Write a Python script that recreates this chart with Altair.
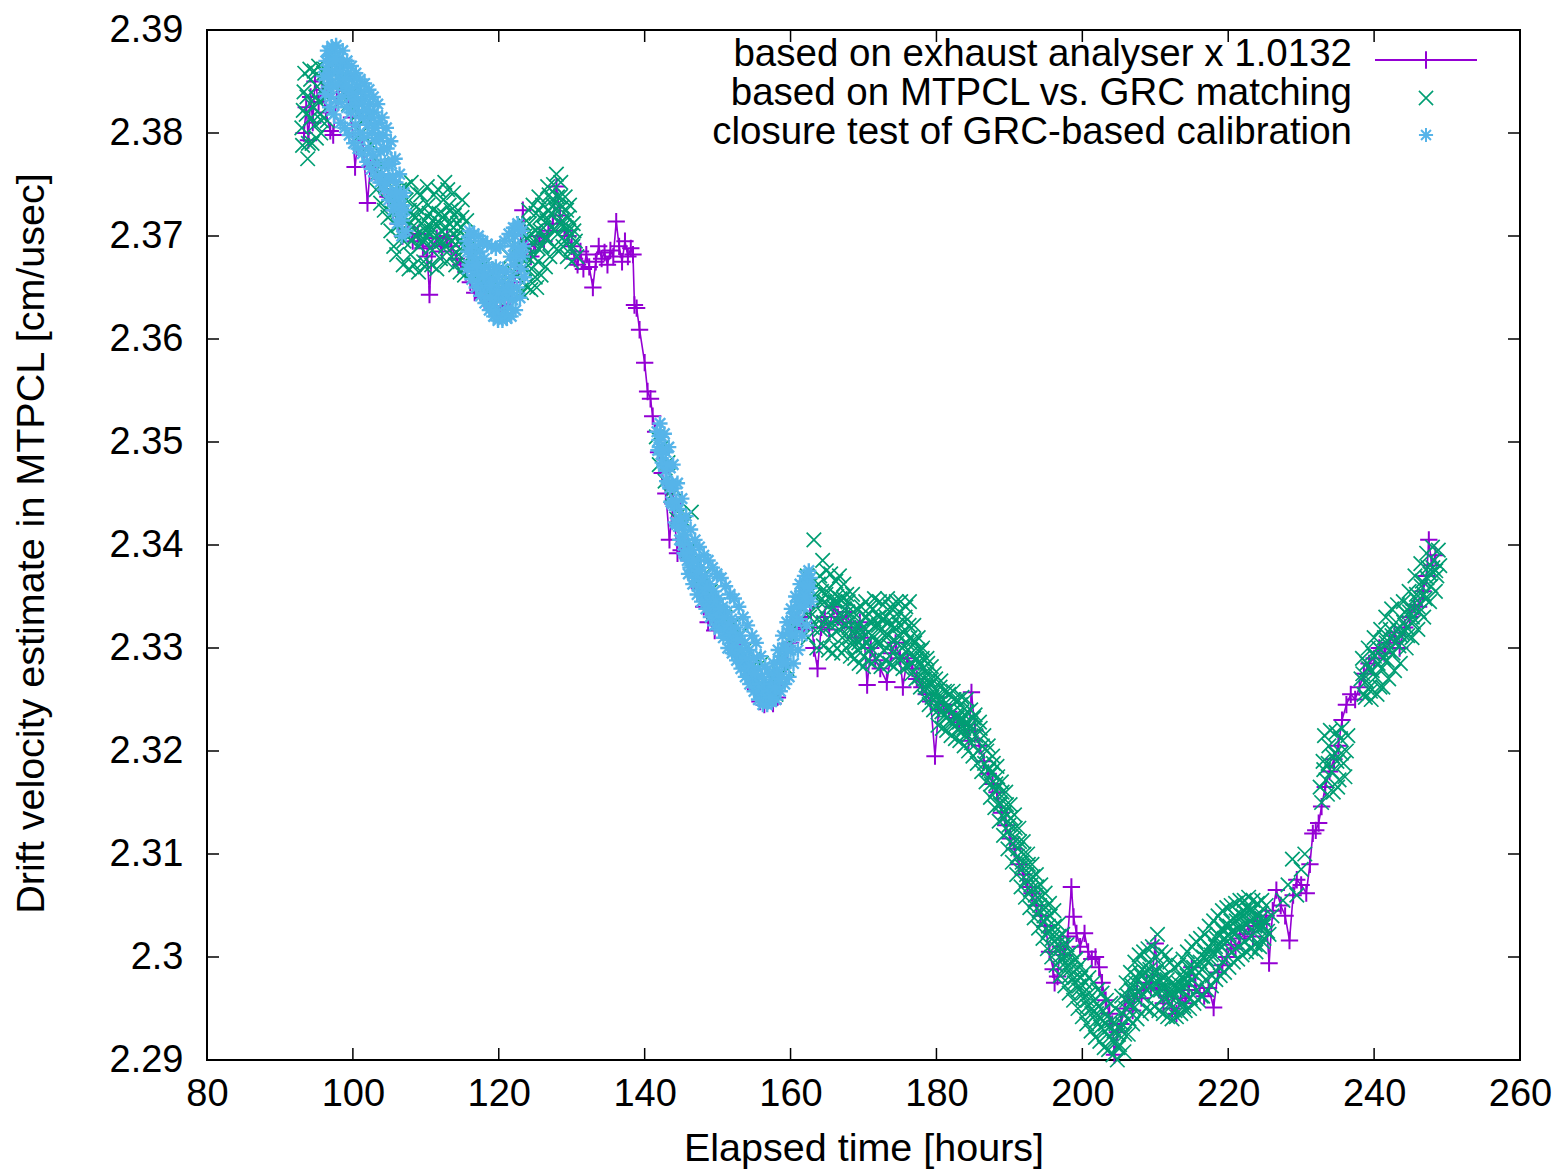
import altair as alt
import pandas as pd

# ---------------- data ----------------
# exhaust analyser x 1.0132 (purple, linespoints): (hours, cm/usec)
exhaust = [
(93.3,2.3800),(93.6,2.3825),(93.9,2.3793),(94.2,2.3835),(94.5,2.3810),(94.8,2.3850),(95.3,2.3830),(95.8,2.3842),
(96.3,2.3820),(96.9,2.3802),(97.3,2.3798),(97.8,2.3835),(98.5,2.3845),(99.2,2.3835),(99.8,2.3815),(100.3,2.3767),
(100.8,2.3800),(101.4,2.3785),(102.0,2.3732),(102.4,2.3768),(103.0,2.3770),(103.6,2.3755),(104.2,2.3745),(104.8,2.3738),
(105.5,2.3725),(106.2,2.3712),(106.8,2.3700),(107.5,2.3708),(108.2,2.3695),(108.9,2.3702),(109.6,2.3688),(110.2,2.3680),
(110.5,2.3643),(110.9,2.3690),(111.5,2.3698),(112.2,2.3685),(112.9,2.3700),(113.5,2.3690),(114.2,2.3678),(114.8,2.3672),
(115.5,2.3665),(116.1,2.3655),(116.7,2.3645),(117.3,2.3652),(117.9,2.3640),(118.5,2.3638),(119.1,2.3630),(119.7,2.3628),
(120.3,2.3632),(120.9,2.3630),(121.5,2.3640),(122.1,2.3655),(122.7,2.3670),(123.3,2.3725),(123.8,2.3690),(124.4,2.3680),
(125.0,2.3692),(125.6,2.3700),(126.2,2.3695),(126.8,2.3705),(127.4,2.3712),(127.9,2.3748),(128.4,2.3720),(129.0,2.3705),
(129.5,2.3700),(130.0,2.3690),(130.4,2.3678),(130.8,2.3672),(131.2,2.3685),(131.6,2.3668),(132.0,2.3682),(132.4,2.3670),
(132.9,2.3650),(133.3,2.3675),(133.7,2.3690),(134.1,2.3678),(134.5,2.3684),(134.9,2.3672),(135.3,2.3686),(135.7,2.3680),
(136.1,2.3714),(136.5,2.3690),(136.9,2.3675),(137.3,2.3695),(137.7,2.3680),(138.1,2.3688),(138.4,2.3682),(138.6,2.3633),
(138.9,2.3630),(139.3,2.3609),(140.0,2.3577),(140.4,2.3549),(140.8,2.3542),(141.1,2.3525),(141.5,2.3510),(141.9,2.3490),
(142.4,2.3470),(142.9,2.3450),(143.4,2.3405),(143.9,2.3440),(144.5,2.3392),(145.0,2.3395),(145.6,2.3400),(146.2,2.3385),
(146.9,2.3370),(147.5,2.3358),(148.1,2.3340),(148.7,2.3325),(149.6,2.3317),(150.3,2.3330),(151.0,2.3325),(151.7,2.3318),
(152.4,2.3305),(153.1,2.3298),(153.8,2.3285),(154.5,2.3272),(155.2,2.3260),(155.8,2.3248),(156.4,2.3245),(157.0,2.3250),
(157.6,2.3246),(158.2,2.3252),(158.8,2.3270),(159.4,2.3285),(160.0,2.3305),(160.6,2.3320),(161.2,2.3330),(161.8,2.3318),
(162.3,2.3365),(162.7,2.3340),(163.2,2.3300),(163.7,2.3280),(164.2,2.3320),(164.7,2.3330),(165.3,2.3318),(165.9,2.3340),
(166.5,2.3330),(167.1,2.3325),(167.7,2.3335),(168.3,2.3320),(168.9,2.3310),(169.5,2.3325),(170.1,2.3310),(170.5,2.3264),
(171.0,2.3300),(171.6,2.3288),(172.3,2.3280),(173.2,2.3267),(173.8,2.3295),(174.4,2.3305),(175.0,2.3290),(175.4,2.3262),
(176.0,2.3290),(176.7,2.3280),(177.3,2.3270),(178.0,2.3262),(178.6,2.3255),(179.2,2.3248),(179.8,2.3195),(180.3,2.3240),
(181.0,2.3245),(181.7,2.3238),(182.4,2.3232),(183.1,2.3228),(183.8,2.3225),(184.4,2.3210),(184.8,2.3257),(185.3,2.3220),
(185.9,2.3205),(186.5,2.3190),(187.1,2.3178),(187.7,2.3168),(188.3,2.3160),(188.9,2.3140),(189.5,2.3128),(190.1,2.3115),
(190.7,2.3105),(191.3,2.3090),(191.9,2.3080),(192.5,2.3068),(193.1,2.3062),(193.7,2.3050),(194.3,2.3040),(194.9,2.3030),
(195.5,2.3005),(196.0,2.2988),(196.2,2.2975),(196.6,2.2981),(197.0,2.3010),(197.5,2.3002),(198.0,2.3020),(198.5,2.3068),
(198.8,2.3039),(199.2,2.3023),(199.7,2.3010),(200.3,2.3023),(200.8,2.3005),(201.3,2.2998),(201.8,2.3000),(202.3,2.2990),
(202.7,2.2975),(203.2,2.2958),(203.7,2.2945),(204.1,2.2935),(204.4,2.2905),(204.8,2.2927),(205.3,2.2935),(205.8,2.2950),
(206.3,2.2962),(206.9,2.2948),(207.5,2.2968),(208.1,2.2960),(208.8,2.2975),(209.4,2.2970),(210.0,2.3013),(210.5,2.2968),
(211.1,2.2955),(211.7,2.2962),(212.3,2.2950),(212.9,2.2945),(213.5,2.2960),(214.1,2.2955),(214.6,2.2968),(215.0,2.2990),
(215.5,2.2972),(216.1,2.2965),(216.7,2.2962),(217.3,2.2970),(218.0,2.2951),(218.6,2.2985),(219.2,2.2992),(219.8,2.3000),
(220.4,2.3012),(221.0,2.3008),(221.6,2.3018),(222.2,2.3022),(222.8,2.3030),(223.4,2.3020),(224.0,2.3035),(224.6,2.3032),
(225.2,2.3040),(225.6,2.2994),(226.1,2.3045),(226.6,2.3065),(227.2,2.3050),(227.8,2.3040),(228.4,2.3016),(228.9,2.3060),
(229.4,2.3075),(230.0,2.3070),(230.7,2.3062),(231.2,2.3090),(231.6,2.3120),(232.0,2.3123),(232.4,2.3130),(232.8,2.3146),
(233.3,2.3165),(233.9,2.3180),(234.5,2.3192),(235.1,2.3205),(235.6,2.3230),(236.2,2.3245),(236.8,2.3255),(237.4,2.3250),
(238.0,2.3262),(238.6,2.3275),(239.3,2.3285),(240.0,2.3290),(240.7,2.3300),(241.4,2.3295),(242.1,2.3305),(242.8,2.3315),
(243.5,2.3300),(244.2,2.3320),(244.9,2.3330),(245.5,2.3342),(246.1,2.3340),(246.7,2.3355),(247.2,2.3370),(247.5,2.3405),
(247.9,2.3380),(248.4,2.3390),
]

# MTPCL vs. GRC matching (green crosses) - band core
matching = [
(93.0,2.3805),(93.3,2.3840),(93.6,2.3818),(93.9,2.3790),(94.2,2.3852),(94.5,2.3826),(94.8,2.3808),(95.1,2.3845),
(95.4,2.3830),(95.7,2.3812),(96.0,2.3858),(96.3,2.3835),(97.0,2.3848),(97.6,2.3868),(98.2,2.3852),(98.8,2.3838),
(99.4,2.3828),(100.0,2.3840),(100.6,2.3818),(101.2,2.3800),(101.8,2.3815),(102.4,2.3790),(103.0,2.3775),(103.5,2.3762),
(104.0,2.3770),(104.5,2.3748),(105.0,2.3740),(105.4,2.3722),(105.8,2.3745),(106.2,2.3710),(106.6,2.3728),(107.0,2.3695),
(107.3,2.3735),(107.6,2.3712),(107.9,2.3682),(108.2,2.3720),(108.5,2.3700),(108.8,2.3742),(109.1,2.3690),(109.4,2.3712),
(109.7,2.3675),(110.0,2.3705),(110.3,2.3730),(110.6,2.3688),(110.9,2.3715),(111.2,2.3698),(111.5,2.3668),(111.8,2.3722),
(112.1,2.3705),(112.4,2.3735),(112.7,2.3690),(113.0,2.3745),(113.3,2.3712),(113.6,2.3695),(113.9,2.3720),(114.2,2.3700),
(114.5,2.3682),(114.8,2.3708),(115.1,2.3690),(115.4,2.3672),(115.7,2.3698),(116.0,2.3680),(116.5,2.3665),(117.0,2.3690),
(117.5,2.3655),(118.0,2.3672),(118.5,2.3645),(119.0,2.3660),(119.5,2.3640),(120.0,2.3668),(120.5,2.3648),(121.0,2.3655),
(121.5,2.3680),(122.0,2.3665),(122.5,2.3690),(123.0,2.3672),(123.3,2.3655),(123.6,2.3700),(123.9,2.3680),(124.0,2.3650),
(124.2,2.3712),(124.5,2.3668),(124.8,2.3695),(125.0,2.3660),(125.1,2.3722),(125.4,2.3688),(125.7,2.3705),(126.0,2.3730),
(126.3,2.3698),(126.6,2.3715),(126.9,2.3740),(127.2,2.3708),(127.5,2.3750),(127.8,2.3725),(128.1,2.3702),(128.4,2.3738),
(128.7,2.3715),(129.0,2.3695),(129.3,2.3725),(129.6,2.3705),(129.9,2.3688),(130.2,2.3712),(130.5,2.3695),
(141.6,2.3505),(142.0,2.3478),(142.4,2.3495),(142.8,2.3462),(143.2,2.3480),(143.6,2.3448),(144.0,2.3455),(144.4,2.3425),
(144.8,2.3430),(145.2,2.3408),(145.6,2.3422),(146.0,2.3395),(146.4,2.3432),(146.8,2.3375),(147.2,2.3385),(147.6,2.3362),
(148.0,2.3370),(148.5,2.3350),(149.0,2.3355),(149.5,2.3335),(150.0,2.3342),(150.5,2.3325),(151.0,2.3330),(151.5,2.3318),
(152.0,2.3322),(152.5,2.3305),(153.0,2.3312),(153.5,2.3292),(154.0,2.3300),(154.5,2.3280),(155.0,2.3290),(155.5,2.3268),
(156.0,2.3285),(156.5,2.3262),(157.0,2.3250),(157.5,2.3270),(158.0,2.3255),(158.5,2.3275),(159.0,2.3290),(159.5,2.3280),
(160.0,2.3305),(160.5,2.3320),(161.0,2.3325),(161.5,2.3340),(162.0,2.3345),(162.3,2.3370),(162.6,2.3330),(162.9,2.3355),
(163.2,2.3405),(163.5,2.3340),(163.8,2.3362),(164.1,2.3318),(164.4,2.3385),(164.7,2.3345),(165.0,2.3328),(165.3,2.3358),
(165.6,2.3312),(165.9,2.3340),(166.2,2.3365),(166.5,2.3325),(166.8,2.3348),(167.1,2.3310),(167.4,2.3338),(167.7,2.3352),
(168.0,2.3320),(168.3,2.3305),(168.6,2.3335),(168.9,2.3318),(169.2,2.3298),(169.5,2.3325),(169.8,2.3310),(170.1,2.3292),
(170.4,2.3330),(170.7,2.3315),(171.0,2.3300),(171.3,2.3338),(171.6,2.3322),(171.9,2.3305),(172.2,2.3345),(172.5,2.3318),
(172.8,2.3298),(173.1,2.3330),(173.4,2.3312),(173.7,2.3340),(174.0,2.3295),(174.3,2.3320),(174.6,2.3305),(174.9,2.3335),
(175.2,2.3290),(175.5,2.3315),(175.8,2.3340),(176.1,2.3298),(176.4,2.3310),(176.7,2.3285),(177.0,2.3305),(177.3,2.3290),
(177.6,2.3272),(177.9,2.3298),(178.2,2.3280),(178.5,2.3262),(178.8,2.3285),(179.1,2.3268),(179.4,2.3252),(179.7,2.3275),
(180.0,2.3258),(180.3,2.3240),(180.6,2.3268),(180.9,2.3250),(181.2,2.3235),(181.5,2.3258),(181.8,2.3242),(182.1,2.3228),
(182.4,2.3250),(182.7,2.3235),(183.0,2.3220),(183.3,2.3245),(183.6,2.3230),(183.9,2.3215),(184.2,2.3238),(184.5,2.3222),
(184.8,2.3208),(185.1,2.3232),(185.4,2.3215),(185.7,2.3200),(186.0,2.3222),(186.3,2.3205),(186.6,2.3188),(186.9,2.3200),
(187.2,2.3182),(187.5,2.3168),(187.8,2.3188),(188.1,2.3162),(188.4,2.3175),(188.7,2.3150),(189.0,2.3160),(189.3,2.3135),
(189.6,2.3148),(189.9,2.3122),(190.2,2.3135),(190.5,2.3110),(190.8,2.3125),(191.1,2.3098),(191.4,2.3112),(191.7,2.3088),
(192.0,2.3100),(192.3,2.3075),(192.6,2.3090),(192.9,2.3065),(193.2,2.3078),(193.5,2.3055),(193.8,2.3068),(194.1,2.3045),
(194.4,2.3058),(194.7,2.3035),(195.0,2.3048),(195.3,2.3025),(195.6,2.3040),(195.9,2.3018),(196.2,2.3030),(196.5,2.3008),
(196.8,2.3020),(197.1,2.2998),(197.4,2.3012),(197.7,2.2990),(198.0,2.3002),(198.3,2.2982),(198.6,2.2995),(198.9,2.2975),
(199.2,2.2988),(199.5,2.2968),(199.8,2.2980),(200.1,2.2960),(200.4,2.2975),(200.7,2.2952),(201.0,2.2965),(201.3,2.2945),
(201.6,2.2958),(201.9,2.2938),(202.2,2.2952),(202.5,2.2932),(202.8,2.2948),(203.1,2.2928),(203.4,2.2942),(203.7,2.2922),
(204.0,2.2938),(204.3,2.2918),(204.6,2.2935),(204.9,2.2912),(205.2,2.2930),(205.5,2.2945),(205.8,2.2925),(206.1,2.2958),
(206.4,2.2940),(206.7,2.2968),(207.0,2.2950),(207.3,2.2975),(207.6,2.2958),(207.9,2.2985),(208.2,2.2962),(208.5,2.2990),
(208.8,2.2968),(209.1,2.2995),(209.4,2.2972),(209.7,2.2985),(210.0,2.2965),(210.3,2.3022),(210.6,2.2978),(210.9,2.2992),
(211.2,2.2960),(211.5,2.2982),(211.8,2.2968),(212.1,2.2955),(212.4,2.2975),(212.7,2.2948),(213.0,2.2968),(213.3,2.2958),
(213.6,2.2980),(213.9,2.2952),(214.2,2.2972),(214.5,2.2990),(214.8,2.2960),(215.1,2.2978),(215.4,2.2995),(215.7,2.2968),
(216.0,2.2985),(216.3,2.2962),(216.6,2.3000),(216.9,2.2978),(217.2,2.2995),(217.5,2.3008),(217.8,2.2982),(218.1,2.3002),
(218.4,2.3018),(218.7,2.2990),(219.0,2.3010),(219.3,2.3025),(219.6,2.2998),(219.9,2.3015),(220.2,2.3030),(220.5,2.3005),
(220.8,2.3022),(221.1,2.3035),(221.4,2.3010),(221.7,2.3028),(222.0,2.3040),(222.3,2.3015),(222.6,2.3032),(222.9,2.3045),
(223.2,2.3020),(223.5,2.3038),(223.8,2.3005),(224.1,2.3030),(224.4,2.3042),(224.7,2.3015),(225.0,2.3035),(225.4,2.3025),
(226.0,2.3040),(227.5,2.3055),(228.2,2.3070),(228.8,2.3095),(229.4,2.3060),(230.0,2.3085),(230.5,2.3100),
(232.6,2.3165),(233.0,2.3190),(233.4,2.3172),(233.8,2.3205),(234.2,2.3180),(234.6,2.3198),(235.0,2.3165),(235.4,2.3212),
(235.8,2.3188),(236.2,2.3200),(238.2,2.3270),(238.6,2.3255),(239.0,2.3285),(239.4,2.3262),(239.6,2.3250),(239.8,2.3295),
(240.2,2.3272),(240.6,2.3300),(240.8,2.3262),(241.0,2.3280),(241.4,2.3310),(241.8,2.3288),(242.2,2.3318),(242.6,2.3295),
(243.0,2.3325),(243.4,2.3302),(243.8,2.3315),(244.2,2.3335),(244.6,2.3312),(245.0,2.3340),(245.4,2.3325),(245.8,2.3352),
(246.2,2.3335),(246.6,2.3365),(247.0,2.3348),(247.4,2.3378),(247.8,2.3360),(248.2,2.3385),(248.6,2.3370),(249.0,2.3380),
]

# MTPCL vs. GRC matching - points along the upper / lower edges of the band
matching_edges = [
(93.1,2.3788),(93.4,2.3858),(93.8,2.3775),(94.1,2.3862),(94.4,2.3790),(94.7,2.3860),(95.0,2.3795),(95.3,2.3865),
(95.6,2.3800),(96.1,2.3862),(96.5,2.3812),
(103.2,2.3745),(103.8,2.3732),(104.3,2.3725),(104.8,2.3718),(105.2,2.3705),(105.6,2.3690),(106.0,2.3682),(106.4,2.3745),
(106.9,2.3672),(107.2,2.3748),(107.7,2.3668),(108.0,2.3752),(108.4,2.3672),(108.7,2.3728),(109.0,2.3665),(109.3,2.3740),
(109.6,2.3698),(109.9,2.3670),(110.2,2.3748),(110.5,2.3710),(110.8,2.3672),(111.1,2.3740),(111.4,2.3690),(111.7,2.3745),
(112.0,2.3678),(112.3,2.3718),(112.6,2.3752),(112.9,2.3675),(113.2,2.3730),(113.5,2.3680),(113.8,2.3742),(114.1,2.3672),
(114.4,2.3725),(114.7,2.3665),(115.0,2.3735),(115.3,2.3662),(115.6,2.3715),
(123.1,2.3645),(123.4,2.3712),(123.7,2.3652),(124.1,2.3725),(124.4,2.3648),(124.7,2.3730),(125.2,2.3650),(125.5,2.3738),
(125.8,2.3662),(126.1,2.3708),(126.4,2.3670),(126.7,2.3748),(127.0,2.3680),(127.3,2.3735),(127.6,2.3690),(127.9,2.3760),
(128.2,2.3685),(128.5,2.3752),(128.8,2.3690),(129.1,2.3738),(129.4,2.3680),(129.7,2.3730),(130.0,2.3675),(130.3,2.3705),
(130.7,2.3680),
(162.4,2.3310),(163.0,2.3320),(163.6,2.3300),(164.0,2.3370),(164.5,2.3302),(164.9,2.3375),(165.2,2.3298),(165.5,2.3372),
(165.8,2.3295),(166.1,2.3345),(166.4,2.3300),(166.7,2.3370),(167.0,2.3295),(167.3,2.3362),(167.6,2.3300),(167.9,2.3345),
(168.2,2.3292),(168.5,2.3352),(168.8,2.3290),(169.1,2.3338),(169.4,2.3285),(169.7,2.3340),(170.0,2.3282),(170.3,2.3345),
(170.6,2.3288),(170.9,2.3340),(171.2,2.3285),(171.5,2.3348),(171.8,2.3290),(172.1,2.3330),(172.4,2.3282),(172.7,2.3342),
(173.0,2.3288),(173.3,2.3348),(173.6,2.3285),(173.9,2.3338),(174.2,2.3282),(174.5,2.3345),(174.8,2.3290),(175.1,2.3345),
(175.4,2.3280),(175.7,2.3330),(176.0,2.3282),(176.3,2.3345),(176.6,2.3275),(176.9,2.3322),(177.2,2.3270),(177.5,2.3310),
(177.8,2.3262),(178.1,2.3300),(178.4,2.3252),(178.7,2.3290),(179.0,2.3245),(179.3,2.3282),(179.6,2.3240),(179.9,2.3270),
(180.2,2.3225),(180.5,2.3262),(180.8,2.3222),(181.1,2.3258),(181.4,2.3220),(181.7,2.3255),(182.0,2.3215),(182.3,2.3258),
(182.6,2.3212),(182.9,2.3250),(183.2,2.3210),(183.5,2.3252),(183.8,2.3205),(184.1,2.3250),(184.4,2.3200),(184.7,2.3240),
(185.0,2.3195),(185.3,2.3235),(185.6,2.3188),(185.9,2.3228),(186.2,2.3180),(186.5,2.3215),(186.8,2.3170),(187.1,2.3205),
(187.4,2.3155),(187.7,2.3195),(188.0,2.3145),(188.3,2.3185),(188.6,2.3132),(188.9,2.3170),(189.2,2.3118),(189.5,2.3160),
(189.8,2.3105),(190.1,2.3148),(190.4,2.3092),(190.7,2.3138),(191.0,2.3080),(191.3,2.3125),(191.6,2.3068),(191.9,2.3112),
(192.2,2.3058),(192.5,2.3100),(192.8,2.3048),(193.1,2.3090),(193.4,2.3038),(193.7,2.3080),(194.0,2.3028),(194.3,2.3070),
(194.6,2.3018),(194.9,2.3062),(195.2,2.3008),(195.5,2.3052),(195.8,2.3000),(196.1,2.3045),(196.4,2.2992),(196.7,2.3032),
(197.0,2.2982),(197.3,2.3022),(197.6,2.2972),(197.9,2.3012),(198.2,2.2965),(198.5,2.3005),(198.8,2.2958),(199.1,2.2998),
(199.4,2.2950),(199.7,2.2992),(200.0,2.2942),(200.3,2.2985),(200.6,2.2935),(200.9,2.2980),(201.2,2.2928),(201.5,2.2975),
(201.8,2.2922),(202.1,2.2968),(202.4,2.2918),(202.7,2.2965),(203.0,2.2912),(203.3,2.2958),(203.6,2.2910),(203.9,2.2955),
(204.2,2.2905),(204.5,2.2950),(204.8,2.2900),(205.1,2.2915),(205.4,2.2962),(205.7,2.2908),(206.0,2.2975),(206.3,2.2925),
(206.6,2.2985),(206.9,2.2935),(207.2,2.2995),(207.5,2.2940),(207.8,2.3002),(208.1,2.2945),(208.4,2.3005),(208.7,2.2950),
(209.0,2.3008),(209.3,2.2948),(209.6,2.3010),(209.9,2.2952),(210.2,2.3000),(210.5,2.2948),(210.8,2.3005),(211.1,2.2945),
(211.4,2.3002),(211.7,2.2942),(212.0,2.2995),(212.3,2.2940),(212.6,2.2990),(212.9,2.2942),(213.2,2.2992),(213.5,2.2945),
(213.8,2.2998),(214.1,2.2948),(214.4,2.3005),(214.7,2.2950),(215.0,2.3010),(215.3,2.2955),(215.6,2.3015),(215.9,2.2958),
(216.2,2.3018),(216.5,2.2962),(216.8,2.3022),(217.1,2.2968),(217.4,2.3030),(217.7,2.2972),(218.0,2.3035),(218.3,2.2978),
(218.6,2.3040),(218.9,2.2982),(219.2,2.3045),(219.5,2.2985),(219.8,2.3048),(220.1,2.2990),(220.4,2.3050),(220.7,2.2995),
(221.0,2.3052),(221.3,2.2998),(221.6,2.3055),(221.9,2.3002),(222.2,2.3055),(222.5,2.3005),(222.8,2.3058),(223.1,2.3008),
(223.4,2.3055),(223.7,2.3012),(224.0,2.3052),(224.3,2.3010),(224.6,2.3055),(224.9,2.3018),(225.2,2.3050),(225.6,2.3022),
(232.8,2.3150),(233.2,2.3215),(233.6,2.3158),(234.0,2.3220),(234.4,2.3160),(234.8,2.3218),(235.2,2.3172),(235.6,2.3222),
(236.0,2.3175),(236.4,2.3215),(238.4,2.3290),(238.8,2.3252),(239.2,2.3300),(239.5,2.3258),(240.0,2.3310),(240.4,2.3255),
(240.9,2.3318),(241.2,2.3262),(241.6,2.3330),(242.0,2.3270),(242.4,2.3338),(242.8,2.3278),(243.2,2.3342),(243.6,2.3285),
(244.0,2.3345),(244.4,2.3300),(244.8,2.3355),(245.2,2.3310),(245.6,2.3370),(246.0,2.3318),(246.4,2.3382),(246.8,2.3330),
(247.2,2.3392),(247.6,2.3345),(248.0,2.3398),(248.4,2.3355),(248.8,2.3395),
]

# MTPCL vs. GRC matching - points filling the middle of the band
matching_fill = [
(93.2,2.3822),(93.7,2.3835),(94.3,2.3815),(94.9,2.3835),(95.5,2.3818),(96.2,2.3845),
(106.75,2.3705),(107.05,2.3718),(107.45,2.3700),(107.75,2.3725),(108.05,2.3695),(108.35,2.3710),(108.65,2.3718),
(108.95,2.3702),(109.25,2.3725),(109.55,2.3695),(109.85,2.3715),(110.15,2.3698),(110.45,2.3722),(110.75,2.3705),
(111.05,2.3725),(111.35,2.3712),(111.65,2.3695),(111.95,2.3712),(112.25,2.3695),(112.55,2.3720),(112.85,2.3708),
(113.15,2.3698),(113.45,2.3725),(113.75,2.3708),(114.05,2.3692),(114.35,2.3712),(114.65,2.3695),(114.95,2.3718),
(115.25,2.3700),(115.55,2.3688),
(123.25,2.3682),(123.55,2.3668),(123.85,2.3698),(124.15,2.3688),(124.45,2.3702),(124.75,2.3680),(125.05,2.3705),
(125.35,2.3675),(125.65,2.3718),(125.95,2.3690),(126.25,2.3720),(126.55,2.3698),(126.85,2.3725),(127.15,2.3722),
(127.45,2.3730),(127.75,2.3705),(128.05,2.3738),(128.35,2.3712),(128.65,2.3728),(128.95,2.3710),(129.25,2.3708),
(129.55,2.3718),(129.85,2.3700),(130.15,2.3690),
(163.35,2.3352),(163.65,2.3328),(163.95,2.3345),(164.25,2.3355),(164.55,2.3325),(164.85,2.3352),(165.15,2.3340),
(165.45,2.3322),(165.75,2.3350),(166.05,2.3328),(166.35,2.3350),(166.65,2.3318),(166.95,2.3332),(167.25,2.3348),
(167.55,2.3322),(167.85,2.3335),(168.15,2.3310),(168.45,2.3328),(168.75,2.3305),(169.05,2.3320),(169.35,2.3305),
(169.65,2.3318),(169.95,2.3302),(170.25,2.3318),(170.55,2.3305),(170.85,2.3325),(171.15,2.3312),(171.45,2.3328),
(171.75,2.3308),(172.05,2.3322),(172.35,2.3305),(172.65,2.3328),(172.95,2.3312),(173.25,2.3325),(173.55,2.3302),
(173.85,2.3322),(174.15,2.3308),(174.45,2.3328),(174.75,2.3312),(175.05,2.3322),(175.35,2.3300),(175.65,2.3325),
(175.95,2.3305),(176.25,2.3322),(176.55,2.3295),(176.85,2.3308),(177.15,2.3288),(177.45,2.3298),(177.75,2.3285),
(178.05,2.3290),(178.35,2.3270),(178.65,2.3275),(178.95,2.3262),(179.25,2.3265),(179.55,2.3258),(179.85,2.3252),
(180.15,2.3245),(180.45,2.3250),(180.75,2.3238),(181.05,2.3245),(181.35,2.3232),(181.65,2.3240),(181.95,2.3230),
(182.25,2.3238),(182.55,2.3225),(182.85,2.3232),(183.15,2.3228),(183.45,2.3238),(183.75,2.3222),(184.05,2.3228),
(184.35,2.3215),(184.65,2.3225),
(187.55,2.3178),(188.15,2.3168),(188.75,2.3148),(189.35,2.3140),(189.95,2.3128),(190.55,2.3115),(191.15,2.3105),
(191.75,2.3092),(192.35,2.3080),(192.95,2.3070),(193.55,2.3060),(194.15,2.3050),(194.75,2.3040),(195.35,2.3030),
(195.95,2.3022),(196.55,2.3012),(197.15,2.3002),(197.75,2.2995),(198.35,2.2988),(198.95,2.2980),(199.55,2.2972),
(200.15,2.2965),(200.75,2.2958),(201.35,2.2950),(201.95,2.2945),(202.55,2.2940),(203.15,2.2935),(203.75,2.2932),
(204.35,2.2928),(204.95,2.2925),(205.45,2.2935),
(205.95,2.2950),(206.25,2.2962),(206.55,2.2955),(206.85,2.2972),(207.15,2.2962),(207.45,2.2980),(207.75,2.2968),
(208.05,2.2982),(208.35,2.2972),(208.65,2.2985),(208.95,2.2975),(209.25,2.2988),(209.55,2.2978),(209.85,2.2975),
(210.15,2.2985),(210.45,2.2975),(210.75,2.2968),(211.05,2.2980),(211.35,2.2970),(211.65,2.2978),(211.95,2.2962),
(212.25,2.2968),(212.55,2.2962),(212.85,2.2970),(213.15,2.2975),(213.45,2.2968),(213.75,2.2972),(214.05,2.2978),
(214.35,2.2982),(214.65,2.2975),(214.95,2.2985),(215.25,2.2990),(215.55,2.2982),(215.85,2.2992),(216.15,2.2995),
(216.45,2.2988),(216.75,2.3005),(217.05,2.2998),(217.35,2.3010),(217.65,2.3002),(217.95,2.3015),(218.25,2.3010),
(218.55,2.3022),(218.85,2.3012),(219.15,2.3028),(219.45,2.3018),(219.75,2.3030),(220.05,2.3022),(220.35,2.3035),
(220.65,2.3025),(220.95,2.3040),(221.25,2.3028),(221.55,2.3042),(221.85,2.3030),(222.15,2.3045),(222.45,2.3032),
(222.75,2.3048),(223.05,2.3035),(223.35,2.3045),(223.65,2.3030),(223.95,2.3040),(224.25,2.3028),(224.55,2.3038),
(224.85,2.3030),
(233.1,2.3182),(233.7,2.3188),(234.3,2.3195),(234.9,2.3190),(235.5,2.3198),
(238.45,2.3275),(238.95,2.3268),(239.25,2.3280),(239.75,2.3278),(240.05,2.3292),(240.55,2.3285),(240.95,2.3298),
(241.25,2.3290),(241.65,2.3305),(242.05,2.3298),(242.45,2.3312),(242.85,2.3305),(243.25,2.3318),(243.65,2.3312),
(244.05,2.3325),(244.45,2.3320),(244.85,2.3335),(245.25,2.3330),(245.65,2.3348),(246.05,2.3340),(246.45,2.3360),
(246.85,2.3352),(247.25,2.3368),(247.65,2.3372),(248.05,2.3378),(248.45,2.3375),
]

# closure test of GRC-based calibration (blue asterisks) - core
closure = [
(96.0,2.3855),(96.3,2.3870),(96.6,2.3845),(96.9,2.3875),(97.0,2.3835),(97.2,2.3858),(97.5,2.3880),(97.8,2.3862),
(98.0,2.3830),(98.1,2.3872),(98.4,2.3848),(98.7,2.3866),(99.0,2.3842),(99.3,2.3858),(99.6,2.3835),(99.9,2.3852),
(100.2,2.3828),(100.5,2.3845),(100.8,2.3820),(101.1,2.3840),(101.4,2.3815),(101.7,2.3835),(102.0,2.3808),(102.3,2.3828),
(102.6,2.3800),(102.9,2.3820),(103.2,2.3792),(103.5,2.3810),(103.8,2.3782),(104.1,2.3798),(104.4,2.3770),(104.7,2.3785),
(105.0,2.3755),(105.3,2.3770),(105.6,2.3740),(105.9,2.3752),(106.2,2.3728),(106.5,2.3738),(106.8,2.3715),(107.1,2.3725),
(115.6,2.3695),(115.9,2.3672),(116.2,2.3700),(116.5,2.3665),(116.8,2.3690),(117.1,2.3655),(117.4,2.3685),(117.7,2.3648),
(118.0,2.3678),(118.3,2.3640),(118.6,2.3670),(118.9,2.3632),(119.2,2.3665),(119.5,2.3628),(119.8,2.3660),(120.1,2.3622),
(120.4,2.3655),(120.7,2.3625),(121.0,2.3665),(121.3,2.3630),(121.6,2.3680),(121.9,2.3638),(122.2,2.3700),(122.5,2.3650),
(122.8,2.3708),(123.1,2.3668),(123.4,2.3690),
(141.7,2.3510),(142.0,2.3495),(142.3,2.3505),(142.6,2.3478),(142.9,2.3490),(143.2,2.3460),(143.5,2.3475),(143.8,2.3440),
(144.1,2.3455),(144.4,2.3420),(144.7,2.3435),(145.0,2.3405),(145.3,2.3418),(145.6,2.3390),(145.9,2.3402),(146.2,2.3378),
(146.5,2.3395),(146.8,2.3368),(147.1,2.3385),(147.4,2.3360),(147.7,2.3378),(148.0,2.3352),(148.3,2.3370),(148.6,2.3345),
(148.9,2.3362),(149.2,2.3338),(149.5,2.3355),(149.8,2.3330),(150.1,2.3348),(150.4,2.3322),(150.7,2.3340),(151.0,2.3315),
(151.3,2.3335),(151.6,2.3308),(151.9,2.3328),(152.2,2.3300),(152.5,2.3320),(152.8,2.3292),(153.1,2.3312),(153.4,2.3285),
(153.7,2.3305),(154.0,2.3278),(154.3,2.3298),(154.6,2.3270),(154.9,2.3290),(155.2,2.3262),(155.5,2.3280),(155.8,2.3255),
(156.1,2.3272),(156.4,2.3250),(156.7,2.3265),(157.0,2.3248),(157.3,2.3262),(157.6,2.3255),(157.9,2.3275),(158.2,2.3262),
(158.5,2.3288),(158.8,2.3272),(159.1,2.3300),(159.4,2.3285),(159.7,2.3315),(160.0,2.3298),(160.3,2.3330),(160.6,2.3312),
(160.9,2.3345),(161.2,2.3328),(161.5,2.3355),(161.8,2.3340),(162.1,2.3362),(162.4,2.3348),(162.7,2.3368),
]

# closure test - points along the upper / lower edges of the blobs
closure_edges = [
(96.2,2.3838),(96.5,2.3880),(96.8,2.3825),(97.1,2.3884),(97.4,2.3818),(97.7,2.3885),(98.3,2.3810),(98.6,2.3880),
(98.9,2.3805),(99.2,2.3870),(99.5,2.3798),(99.8,2.3865),(100.1,2.3790),(100.4,2.3858),(100.7,2.3785),(101.0,2.3852),
(101.3,2.3780),(101.6,2.3848),(101.9,2.3772),(102.2,2.3842),(102.5,2.3765),(102.8,2.3835),(103.1,2.3758),(103.4,2.3828),
(103.7,2.3752),(104.0,2.3815),(104.3,2.3745),(104.6,2.3805),(104.9,2.3735),(105.2,2.3792),(105.5,2.3725),(105.8,2.3775),
(106.1,2.3712),(106.4,2.3760),(106.7,2.3700),(107.0,2.3742),(107.3,2.3705),
(115.7,2.3668),(116.0,2.3705),(116.3,2.3658),(116.6,2.3702),(116.9,2.3650),(117.2,2.3700),(117.5,2.3642),(117.8,2.3695),
(118.1,2.3635),(118.4,2.3692),(118.7,2.3628),(119.0,2.3690),(119.3,2.3622),(119.6,2.3688),(119.9,2.3618),(120.2,2.3690),
(120.5,2.3618),(120.8,2.3695),(121.1,2.3620),(121.4,2.3702),(121.7,2.3622),(122.0,2.3708),(122.3,2.3628),(122.6,2.3712),
(122.9,2.3640),(123.2,2.3705),(123.5,2.3660),
(141.8,2.3492),(142.1,2.3518),(142.4,2.3480),(142.7,2.3508),(143.0,2.3462),(143.3,2.3495),(143.6,2.3442),(143.9,2.3478),
(144.2,2.3422),(144.5,2.3460),(144.8,2.3405),(145.1,2.3445),(145.4,2.3392),(145.7,2.3428),(146.0,2.3372),(146.3,2.3415),
(146.6,2.3362),(146.9,2.3405),(147.2,2.3352),(147.5,2.3398),(147.8,2.3345),(148.1,2.3390),(148.4,2.3338),(148.7,2.3385),
(149.0,2.3330),(149.3,2.3378),(149.6,2.3322),(149.9,2.3372),(150.2,2.3318),(150.5,2.3368),(150.8,2.3310),(151.1,2.3360),
(151.4,2.3300),(151.7,2.3352),(152.0,2.3295),(152.3,2.3348),(152.6,2.3288),(152.9,2.3340),(153.2,2.3280),(153.5,2.3330),
(153.8,2.3272),(154.1,2.3322),(154.4,2.3265),(154.7,2.3312),(155.0,2.3258),(155.3,2.3305),(155.6,2.3250),(155.9,2.3292),
(156.2,2.3245),(156.5,2.3282),(156.8,2.3245),(157.1,2.3275),(157.4,2.3248),(157.7,2.3285),(158.0,2.3250),(158.3,2.3298),
(158.6,2.3258),(158.9,2.3312),(159.2,2.3265),(159.5,2.3325),(159.8,2.3272),(160.1,2.3338),(160.4,2.3285),(160.7,2.3350),
(161.0,2.3298),(161.3,2.3362),(161.6,2.3312),(161.9,2.3370),(162.2,2.3322),(162.5,2.3375),(162.8,2.3345),
]

# closure test - points filling the middle of the blobs
closure_fill = [
(96.45,2.3862),(96.75,2.3852),(97.05,2.3868),(97.35,2.3845),(97.65,2.3872),(97.95,2.3848),(98.25,2.3858),
(98.55,2.3835),(98.85,2.3852),(99.15,2.3825),(99.45,2.3845),(99.75,2.3820),(100.05,2.3838),(100.35,2.3808),
(100.65,2.3832),(100.95,2.3800),(101.25,2.3828),(101.55,2.3795),(101.85,2.3822),(102.15,2.3785),(102.45,2.3815),
(102.75,2.3778),(103.05,2.3805),(103.35,2.3770),(103.65,2.3795),(103.95,2.3760),(104.25,2.3785),(104.55,2.3752),
(104.85,2.3770),(105.15,2.3742),(105.45,2.3758),(105.75,2.3730),(106.05,2.3742),(106.35,2.3720),(106.65,2.3730),
(115.75,2.3685),(116.05,2.3688),(116.35,2.3680),(116.65,2.3675),(116.95,2.3675),(117.25,2.3665),(117.55,2.3668),
(117.85,2.3660),(118.15,2.3658),(118.45,2.3652),(118.75,2.3655),(119.05,2.3645),(119.35,2.3650),(119.65,2.3640),
(119.95,2.3645),(120.25,2.3638),(120.55,2.3642),(120.85,2.3640),(121.15,2.3648),(121.45,2.3652),(121.75,2.3660),
(122.05,2.3672),(122.35,2.3680),(122.65,2.3688),(122.95,2.3685),(123.25,2.3680),(117.0,2.3672),(118.0,2.3662),
(119.0,2.3652),(120.0,2.3645),(121.0,2.3648),(122.0,2.3690),(120.6,2.3668),(119.6,2.3670),(121.8,2.3645),(118.8,2.3640),
(141.95,2.3502),(142.25,2.3488),(142.55,2.3492),(142.85,2.3472),(143.15,2.3478),(143.45,2.3455),(143.75,2.3460),
(144.05,2.3438),(144.35,2.3442),(144.65,2.3418),(144.95,2.3425),(145.25,2.3400),(145.55,2.3410),(145.85,2.3385),
(146.15,2.3392),(146.45,2.3380),(146.75,2.3385),(147.05,2.3372),(147.35,2.3375),(147.65,2.3362),(147.95,2.3365),
(148.25,2.3355),(148.55,2.3358),(148.85,2.3345),(149.15,2.3350),(149.45,2.3340),(149.75,2.3345),(150.05,2.3332),
(150.35,2.3338),(150.65,2.3325),(150.95,2.3330),(151.25,2.3318),(151.55,2.3322),(151.85,2.3312),(152.15,2.3315),
(152.45,2.3302),(152.75,2.3308),(153.05,2.3295),(153.35,2.3298),(153.65,2.3288),(153.95,2.3290),(154.25,2.3280),
(154.55,2.3282),(154.85,2.3272),(155.15,2.3275),(155.45,2.3262),(155.75,2.3265),(156.05,2.3258),(156.35,2.3262),
(156.65,2.3255),(156.95,2.3258),(157.25,2.3252),(157.55,2.3265),(157.85,2.3262),(158.15,2.3275),(158.45,2.3270),
(158.75,2.3288),(159.05,2.3285),(159.35,2.3300),(159.65,2.3298),(159.95,2.3318),(160.25,2.3312),(160.55,2.3330),
(160.85,2.3325),(161.15,2.3345),(161.45,2.3340),(161.75,2.3355),(162.05,2.3350),(162.35,2.3360),(162.65,2.3358),
]

x_ticks = [80, 100, 120, 140, 160, 180, 200, 220, 240, 260]
y_ticks = [2.29, 2.30, 2.31, 2.32, 2.33, 2.34, 2.35, 2.36, 2.37, 2.38, 2.39]
legend_labels = ["based on exhaust analyser x 1.0132",
                 "based on MTPCL vs. GRC matching",
                 "closure test of GRC-based calibration"]

# ---------------- styling ----------------
W, H = 1313, 1030
FONT = "Liberation Sans"
PURPLE, GREEN, BLUE = "#9400D3", "#009E73", "#56B4E9"
PLUS = "M-1,0L1,0M0,-1L0,1"
CROSS = "M-1,-1L1,1M-1,1L1,-1"
STAR = "M-1,0L1,0M0,-1L0,1M-0.7,-0.7L0.7,0.7M-0.7,0.7L0.7,-0.7"

df_ex = pd.DataFrame(exhaust, columns=["t", "v"])
df_ma = pd.DataFrame(matching + matching_edges + matching_fill, columns=["t", "v"])
df_cl = pd.DataFrame(closure + closure_edges + closure_fill, columns=["t", "v"])

xscale = alt.Scale(domain=[80, 260], nice=False, zero=False)
yscale = alt.Scale(domain=[2.29, 2.39], nice=False, zero=False)

x_axis = alt.Axis(values=x_ticks, title="Elapsed time [hours]", grid=False, domain=False,
                  tickSize=0, labelFont=FONT, labelFontSize=38, labelColor="black",
                  labelPadding=15, titleFont=FONT, titleFontSize=39.5, titleFontWeight="normal",
                  titleColor="black", titleBaseline="alphabetic", titleY=100, titleX=W / 2,
                  titleAlign="center", labelFlush=False)
y_axis = alt.Axis(values=y_ticks, title="Drift velocity estimate in MTPCL [cm/usec]", grid=False,
                  domain=False, tickSize=0, labelFont=FONT, labelFontSize=38, labelColor="black",
                  labelPadding=24, labelExpr="format(datum.value, '.2~f')",
                  titleFont=FONT, titleFontSize=39.5, titleFontWeight="normal", titleColor="black",
                  titleAngle=270, titleBaseline="alphabetic", titleAlign="center",
                  titleX=-164, titleY=513, labelFlush=False)

X = alt.X("t:Q", scale=xscale, axis=x_axis)
Y = alt.Y("v:Q", scale=yscale, axis=y_axis)

line = alt.Chart(df_ex).mark_line(color=PURPLE, strokeWidth=1.6).encode(x=X, y=Y)
pts_ex = alt.Chart(df_ex).mark_point(shape=PLUS, filled=False, color=PURPLE, strokeWidth=2,
                                     size=300, opacity=1).encode(x=X, y=Y)
pts_ma = alt.Chart(df_ma).mark_point(shape=CROSS, filled=False, color=GREEN, strokeWidth=1.7,
                                     size=210, opacity=1).encode(x=X, y=Y)
pts_cl = alt.Chart(df_cl).mark_point(shape=STAR, filled=False, color=BLUE, strokeWidth=2.4,
                                     size=230, opacity=1).encode(x=X, y=Y)

# inward ticks on all four sides
dfx = pd.DataFrame({"t": x_ticks})
dfy = pd.DataFrame({"v": y_ticks})
TL = 12
tick_style = dict(color="black", strokeWidth=1.5)
tb = alt.Chart(dfx).mark_rule(**tick_style).encode(x=X, y=alt.value(H), y2=alt.value(H - TL))
tt = alt.Chart(dfx).mark_rule(**tick_style).encode(x=X, y=alt.value(0), y2=alt.value(TL))
tl = alt.Chart(dfy).mark_rule(**tick_style).encode(y=Y, x=alt.value(0), x2=alt.value(TL))
tr = alt.Chart(dfy).mark_rule(**tick_style).encode(y=Y, x=alt.value(W), x2=alt.value(W - TL))

# legend (gnuplot style, inside top right)
LX_TEXT, LX_SYM = 1145, 1219
rows_y = [36, 75, 114]
sym_y = [30, 68, 105]
leg = []
for i, lab in enumerate(legend_labels):
    leg.append(alt.Chart(pd.DataFrame({"label": [lab]})).mark_text(
        align="right", baseline="alphabetic", font=FONT, fontSize=38.5, color="black").encode(
        text="label:N", x=alt.value(LX_TEXT), y=alt.value(rows_y[i])))
legend_line = alt.Chart(pd.DataFrame({"label": [legend_labels[0]]})).mark_rule(
    color=PURPLE, strokeWidth=2).encode(x=alt.value(1168), x2=alt.value(1270), y=alt.value(sym_y[0]))
legend_p = alt.Chart(pd.DataFrame({"label": [legend_labels[0]]})).mark_point(
    shape=PLUS, filled=False, color=PURPLE, strokeWidth=2, size=300, opacity=1).encode(
    x=alt.value(LX_SYM), y=alt.value(sym_y[0]))
legend_x = alt.Chart(pd.DataFrame({"label": [legend_labels[1]]})).mark_point(
    shape=CROSS, filled=False, color=GREEN, strokeWidth=1.6, size=200, opacity=1).encode(
    x=alt.value(LX_SYM), y=alt.value(sym_y[1]))
legend_s = alt.Chart(pd.DataFrame({"label": [legend_labels[2]]})).mark_point(
    shape=STAR, filled=False, color=BLUE, strokeWidth=2, size=200, opacity=1).encode(
    x=alt.value(LX_SYM), y=alt.value(sym_y[2]))

chart = alt.layer(line, pts_ex, pts_ma, pts_cl, tb, tt, tl, tr, *leg,
                  legend_line, legend_p, legend_x, legend_s).properties(
    width=W, height=H,
    autosize="none",
    padding={"left": 207, "top": 30, "right": 48, "bottom": 113},
    background="white",
).configure_view(stroke="black", strokeWidth=2)

chart.save("out.html", embed_options={"renderer": "svg", "actions": False})
